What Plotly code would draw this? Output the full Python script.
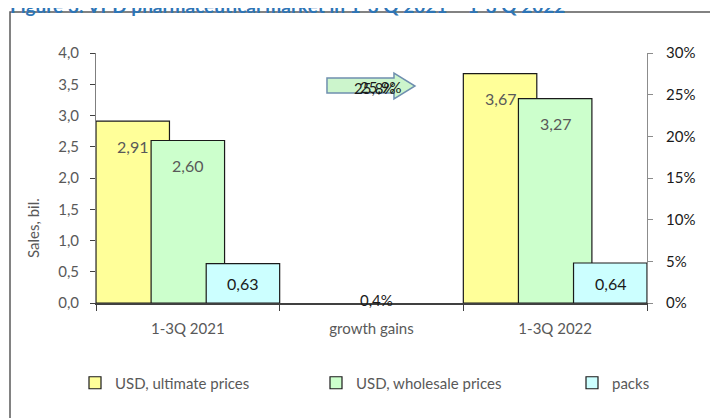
import plotly.graph_objects as go

CATEGORIES = ["1-3Q 2021", "growth gains", "1-3Q 2022"]
PERIODS = ["1-3Q 2021", "1-3Q 2022"]
SERIES = ["USD, ultimate prices", "USD, wholesale prices", "packs"]

ULTIMATE_USD = [2.91, 3.67]
WHOLESALE_USD = [2.60, 3.27]
PACKS = [0.63, 0.64]

# growth 2022 vs 2021, % (right axis), same order as SERIES
GROWTH = [25.9, 25.8, 0.4]

TITLE = "Figure 3. VPD pharmaceutical market in 1-3 Q 2021 – 1-3 Q 2022"

YELLOW, GREEN, CYAN = "#FFFF99", "#CCFFCC", "#CCFFFF"
GREY = "#595959"
FONT = "Lato, sans-serif"

# the page body adds an 8px margin, so the figure is a bit smaller than the window
PAGE_PAD = 8
W, H = 718 - PAGE_PAD, 418 - PAGE_PAD
# plot area in page pixels: x 96..647, y 53..303
L, R, T, B = 96 - PAGE_PAD, W - (647 - PAGE_PAD), 53 - PAGE_PAD, H - (303 - PAGE_PAD)
PW, PH = W - L - R, H - T - B
CAT_PX = PW / len(CATEGORIES)


def px(x):
    # page x -> paper
    return (x - PAGE_PAD - L) / PW


def py(y):
    # page y -> paper
    return (H - B - (y - PAGE_PAD)) / PH


# bar layout inside a category (Excel gap 0, overlap 25%)
BAR_WIDTH = 0.4
OFFSETS = [-0.5, -0.2, 0.1]

fig = go.Figure()
values = [ULTIMATE_USD, WHOLESALE_USD, PACKS]
colors = [YELLOW, GREEN, CYAN]
legends = ["legend", "legend2", "legend3"]
for name, vals, color, offset, leg in zip(SERIES, values, colors, OFFSETS, legends):
    fig.add_trace(
        go.Bar(
            x=PERIODS,
            y=vals,
            name=name,
            width=BAR_WIDTH,
            offset=offset,
            marker={"color": color, "line": {"color": "#1a1a1a", "width": 1.2}},
            legend=leg,
            showlegend=True,
            hoverinfo="x+y",
        )
    )

annotations = []
# data labels of the value bars
for i, vals in enumerate(values):
    shift = (OFFSETS[i] + BAR_WIDTH / 2) * CAT_PX
    for cat, v in zip(PERIODS, vals):
        tall = i < 2
        annotations.append(
            dict(
                x=cat, y=v if tall else v / 2, xref="x", yref="y",
                text=f"{v:.2f}".replace(".", ","),
                showarrow=False, xshift=shift, yshift=-25 if tall else 0,
                font={"size": 16, "color": GREY if tall else "#1a1a1a", "family": FONT},
            )
        )

# growth labels on the right axis
growth_shift = [9, 3, 5]
for g, s in zip(GROWTH, growth_shift):
    annotations.append(
        dict(
            x="growth gains", y=g, xref="x", yref="y2",
            text=f"{g:.1f}%".replace(".", ","),
            showarrow=False, xshift=s,
            font={"size": 15, "color": "#1a1a1a", "family": FONT},
        )
    )

annotations.append(
    dict(
        x=px(33), y=py(228), xref="paper", yref="paper",
        xanchor="center", yanchor="middle",
        text="Sales, bil.", textangle=-90, showarrow=False,
        font={"size": 15, "color": GREY, "family": FONT},
    )
)
annotations.append(
    dict(
        x=px(8), y=py(19), xref="paper", yref="paper",
        xanchor="left", yanchor="bottom",
        text=f"<b>{TITLE}</b>", showarrow=False,
        font={"size": 19, "color": "#2E75B6", "family": FONT},
    )
)

# arrow over the growth labels
arrow_pts = [(327, 78), (394, 78), (394, 73), (415, 86), (394, 99), (394, 93), (327, 93)]
arrow_path = "M" + " L".join(f"{px(x):.4f},{py(y):.4f}" for x, y in arrow_pts) + " Z"

shapes = [
    dict(
        type="rect", xref="paper", yref="paper",
        x0=px(10), y0=py(12), x1=px(760), y1=py(460),
        line={"color": "#595959", "width": 1.5}, fillcolor="rgba(0,0,0,0)", layer="below",
    ),
    dict(
        type="path", xref="paper", yref="paper", path=arrow_path,
        fillcolor="#CCF5CC", line={"color": "#6F8FAF", "width": 1.5}, layer="below",
    ),
]

legend_base = {
    "orientation": "h", "yanchor": "middle", "y": py(383), "xanchor": "left",
    "font": {"size": 15, "color": GREY, "family": FONT}, "bgcolor": "rgba(0,0,0,0)",
}

fig.update_layout(
    width=W,
    height=H,
    margin={"l": L, "r": R, "t": T, "b": B, "autoexpand": False},
    paper_bgcolor="#ffffff",
    plot_bgcolor="#ffffff",
    separators=", ",
    barmode="overlay",
    showlegend=True,
    font={"family": FONT, "color": GREY, "size": 15},
    annotations=annotations,
    shapes=shapes,
    legend={**legend_base, "x": px(75)},
    legend2={**legend_base, "x": px(316)},
    legend3={**legend_base, "x": px(572)},
    xaxis={
        "type": "category",
        "categoryorder": "array",
        "categoryarray": CATEGORIES,
        "tickvals": CATEGORIES,
        "range": [-0.5, 2.5],
        "showline": True,
        "linecolor": "#404040",
        "linewidth": 1.5,
        "ticks": "outside",
        "tickson": "boundaries",
        "ticklen": 6,
        "tickcolor": "#404040",
        "ticklabelstandoff": 11,
        "showgrid": False,
        "tickfont": {"size": 15, "color": GREY},
    },
    yaxis={
        "range": [0, 4],
        "dtick": 0.5,
        "tickformat": ".1f",
        "showline": True,
        "linecolor": "#7f7f7f",
        "ticks": "outside",
        "ticklen": 5,
        "tickcolor": "#404040",
        "ticklabelstandoff": 8,
        "showgrid": False,
        "zeroline": False,
        "tickfont": {"size": 15, "color": GREY},
    },
    yaxis2={
        "overlaying": "y",
        "side": "right",
        "range": [0, 30],
        "dtick": 5,
        "ticksuffix": "%",
        "showline": True,
        "linecolor": "#8c8c8c",
        "ticks": "outside",
        "ticklen": 5,
        "tickcolor": "#8c8c8c",
        "ticklabelstandoff": 10,
        "showgrid": False,
        "zeroline": False,
        "tickfont": {"size": 15, "color": "#1a1a1a"},
    },
)

# empty trace so the right axis is drawn
fig.add_trace(go.Scatter(x=[], y=[], yaxis="y2", showlegend=False))

fig.write_html("out.html")
